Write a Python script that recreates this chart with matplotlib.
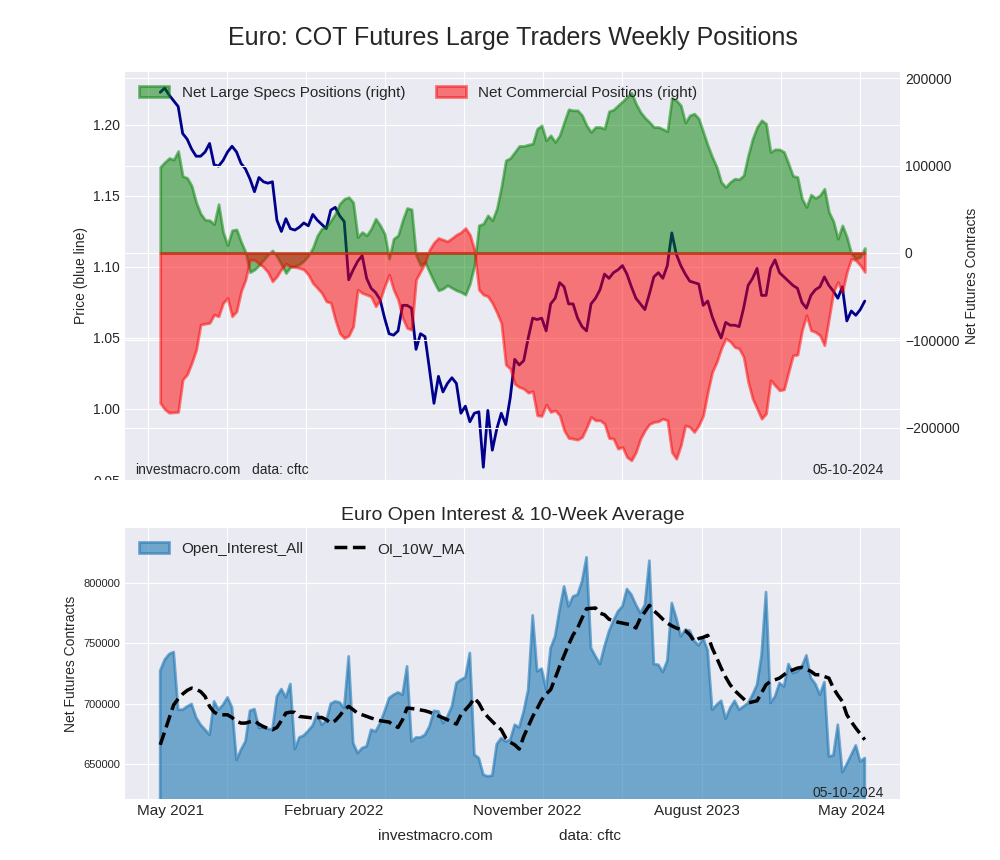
import numpy as np
import pandas as pd
import matplotlib
matplotlib.use('Agg')
import matplotlib.pyplot as plt
from matplotlib.patches import Rectangle
from matplotlib.ticker import MultipleLocator

# weekly COT data, Tuesday report dates
weeks = pd.date_range('2021-05-04', periods=158, freq='7D')

price = [
    1.223, 1.226, 1.221, 1.217, 1.213, 1.194, 1.190, 1.183, 1.178, 1.178,
    1.181, 1.187, 1.172, 1.171, 1.175, 1.181, 1.185, 1.181, 1.173, 1.169,
    1.162, 1.153, 1.163, 1.160, 1.159, 1.160, 1.133, 1.125, 1.134, 1.127,
    1.126, 1.128, 1.131, 1.129, 1.137, 1.133, 1.130, 1.127, 1.140, 1.142,
    1.136, 1.132, 1.091, 1.098, 1.104, 1.108, 1.092, 1.085, 1.082, 1.077,
    1.064, 1.053, 1.052, 1.055, 1.073, 1.073, 1.071, 1.042, 1.053, 1.051,
    1.028, 1.004, 1.023, 1.012, 1.018, 1.022, 1.018, 0.997, 1.002, 0.991,
    0.997, 0.998, 0.959, 0.999, 0.971, 0.986, 0.997, 0.989, 1.008, 1.035,
    1.031, 1.034, 1.050, 1.064, 1.063, 1.064, 1.055, 1.074, 1.078, 1.089,
    1.086, 1.074, 1.074, 1.064, 1.058, 1.055, 1.074, 1.078, 1.084, 1.095,
    1.092, 1.096, 1.098, 1.101, 1.095, 1.086, 1.078, 1.074, 1.070, 1.081,
    1.093, 1.096, 1.092, 1.101, 1.124, 1.109, 1.101, 1.095, 1.090, 1.089,
    1.088, 1.073, 1.076, 1.065, 1.057, 1.050, 1.061, 1.059, 1.059, 1.058,
    1.071, 1.087, 1.092, 1.099, 1.080, 1.080, 1.099, 1.105, 1.096, 1.093,
    1.090, 1.087, 1.085, 1.075, 1.071, 1.080, 1.084, 1.086, 1.093, 1.087,
    1.083, 1.078, 1.086, 1.062, 1.069, 1.066, 1.070, 1.076]

large_specs = [
    98500, 104000, 108800, 107000, 116800, 88000, 86000, 77000, 58000, 45000,
    38000, 37500, 33000, 56000, 24000, 9000, 26000, 27000, 13000, 1000,
    -22000, -19000, -14000, -8000, -2000, 3000, -4000, -13000, -23000, -16000,
    -15000, -13000, -9000, -3000, 6000, 20000, 28000, 30000, 37000, 45000,
    56500, 62000, 64000, 58000, 18300, 24000, 20200, 27900, 39300, 31700,
    22100, -6500, 16400, 20200, 37400, 51500, 50000, -2700, -14100, -10300,
    -21800, -33000, -42800, -40900, -37000, -40000, -42800, -44700, -47700, -35100,
    -14100, 31700, 33600, 43100, 37400, 50800, 75600, 106100, 108800, 115700,
    122600, 122600, 124100, 125200, 142400, 146200, 129000, 134800, 127100, 134800,
    150000, 164600, 163400, 163400, 157700, 146200, 138600, 144300, 144300, 142400,
    162300, 164200, 169100, 173700, 178700, 183600, 171000, 161500, 155000, 150000,
    144300, 144300, 142000, 139400, 177500, 174900, 169100, 149300, 157700, 159600,
    153900, 138600, 123300, 110000, 98500, 81300, 75600, 81300, 85100, 84400,
    89000, 111900, 131000, 144300, 152000, 148100, 115700, 118700, 118700, 115700,
    102300, 88200, 87100, 62200, 52700, 66800, 63000, 66100, 73700, 47000,
    36300, 16400, 31700, 18300, -700, -6500, -4600, 5700]

commercial = [
    -171800, -179000, -183000, -182500, -182000, -145000, -139000, -126000, -111000, -82000,
    -81000, -80000, -70600, -72500, -57300, -51500, -72500, -66800, -44000, -30500,
    -7600, -8000, -12000, -16000, -22000, -32500, -26700, -18300, -12200, -15300,
    -16000, -17200, -19000, -24800, -34400, -40000, -45800, -55400, -57000, -76400,
    -92000, -97400, -94700, -84000, -42000, -45800, -47700, -50000, -61100, -53500,
    -38200, -24800, -42000, -53500, -74500, -85900, -87800, -30500, -21000, -11500,
    3800, 12000, 17200, 15300, 13400, 17000, 21000, 23700, 28600, 21000,
    3800, -42000, -47700, -49600, -57300, -68000, -80200, -127900, -132500, -150000,
    -153500, -155400, -160000, -158400, -185900, -186700, -173700, -182100, -180200, -185900,
    -203100, -211900, -212700, -213800, -210800, -200000, -187800, -191700, -191700, -195500,
    -211900, -212700, -224100, -222200, -233700, -237500, -228000, -212700, -203100, -196000,
    -193600, -192800, -189800, -191700, -228000, -235600, -220300, -197400, -199300, -205000,
    -197400, -185900, -159200, -136300, -124800, -109500, -98100, -101200, -107700, -109500,
    -119100, -147700, -166800, -178300, -189800, -184000, -145800, -151600, -157300, -156200,
    -136300, -117200, -116500, -88600, -71400, -88600, -90500, -94300, -105700, -75200,
    -44700, -33200, -44700, -21800, -6500, -8400, -14100, -21700]

open_interest = [
    727300, 736400, 741100, 742800, 695000, 695000, 697700, 699700, 688600, 682500,
    678400, 674200, 701900, 695000, 699100, 705200, 696900, 653500, 661800, 668700,
    694100, 695500, 679800, 680300, 679200, 678400, 706000, 712100, 705200, 716300,
    662400, 672000, 673700, 677600, 682000, 692200, 682500, 685800, 700000, 701900,
    701000, 696400, 739200, 667300, 659000, 663200, 664600, 678400, 677000, 683900,
    693600, 704600, 707400, 709300, 707400, 730900, 668700, 672000, 672000, 674200,
    681100, 694100, 693600, 683900, 689400, 697700, 717100, 719800, 721800, 742000,
    657700, 654900, 641100, 639700, 640500, 666500, 671500, 668700, 670100, 682500,
    680300, 693600, 711600, 773200, 726800, 729000, 711600, 746100, 755800, 777900,
    797200, 780700, 788900, 790300, 801400, 821300, 746100, 739200, 732800, 747500,
    759900, 768800, 776500, 780700, 795000, 790300, 782000, 775100, 782000, 818500,
    732800, 732200, 726200, 735600, 783400, 771000, 755800, 761300, 760500, 752000,
    748300, 754400, 743900, 695000, 699100, 702400, 687500, 696400, 702400, 695000,
    697700, 700500, 707400, 715700, 740000, 792500, 700500, 706000, 717100, 714300,
    732800, 725400, 726800, 730900, 740000, 721200, 716300, 707400, 717900, 656300,
    657100, 682500, 643300, 650000, 657700, 665400, 652100, 654900]

oi_ma = [
    665900, 677000, 688100, 699100, 704000, 708000, 711000, 712900, 712000, 710000,
    706000, 697700, 693000, 691000, 690800, 690800, 688500, 685500, 683900, 683900,
    685000, 685900, 683000, 681000, 679500, 678400, 680300, 685900, 692200, 693000,
    692800, 689400, 689000, 688600, 688100, 688400, 688600, 686700, 684000, 685900,
    690000, 694900, 697700, 695000, 692000, 690800, 689500, 688100, 687000, 685900,
    685300, 684800, 682000, 680300, 686700, 696400, 696000, 695500, 694800, 694100,
    693000, 691400, 689700, 688100, 686700, 684800, 683100, 690800, 695000, 699100,
    704600, 700500, 693600, 689000, 685300, 681500, 678400, 671500, 668000, 665900,
    662400, 672800, 681000, 689400, 696000, 703200, 708000, 711600, 721000, 730900,
    740000, 748900, 757000, 762700, 771000, 778700, 779000, 779300, 775000, 773700,
    770000, 768800, 767500, 766800, 766000, 765500, 762700, 771000, 776000, 781500,
    777000, 773700, 770000, 766800, 764500, 762700, 761500, 760500, 757200, 751600,
    754000, 755000, 756600, 746100, 738000, 729500, 722000, 715700, 711000, 707400,
    704000, 700500, 701500, 702400, 709000, 715700, 718500, 719800, 721200, 724000,
    726800, 728000, 729500, 730100, 728500, 726800, 724000, 724000, 722500, 721200,
    712900, 707000, 701900, 690800, 685000, 679800, 675000, 670100]

# x grid lines and the (offset) month labels under the lower panel
grid_dates = pd.date_range('2021-04-15', '2024-04-29', periods=10)
label_dates = pd.to_datetime(['2021-05-20', '2022-01-30', '2022-11-28',
                              '2023-08-19', '2024-04-16'])
label_text = ['May 2021', 'February 2022', 'November 2022', 'August 2023', 'May 2024']

plt.style.use('seaborn-v0_8-darkgrid')
plt.rcParams['font.family'] = ['Liberation Sans', 'DejaVu Sans']

fig = plt.figure(figsize=(10, 8.6), dpi=100)
fig.text(0.5125, 0.9558, 'Euro: COT Futures Large Traders Weekly Positions',
         ha='center', va='center', fontsize=18)

# --- top panel: price + net positions
ax = fig.add_axes([0.125, 0.44186, 0.775, 0.47442])
ax.plot(weeks, price, color='darkblue', lw=2)
ax.set_ylim(0.95, 1.2373)
ax.set_ylabel('Price (blue line)', fontsize=10)
ax.tick_params(axis='y', labelsize=10)
ax.set_xticks(grid_dates)
ax.set_xticklabels([])

ax2 = ax.twinx()
ax2.fill_between(weeks, large_specs, color='green', alpha=0.5, lw=2,
                 label='Net Large Specs Positions (right)')
ax2.fill_between(weeks, commercial, color='red', alpha=0.5, lw=2,
                 label='Net Commercial Positions (right)')
ax2.set_ylim(-260000, 207300)
ax2.yaxis.set_major_locator(MultipleLocator(100000))
ax2.set_ylabel('Net Futures Contracts', fontsize=10)
ax2.tick_params(axis='y', labelsize=10)
ax2.legend(loc='upper left', ncol=2, fontsize=11, frameon=False)
ax.text(0.013, 0.0245, 'investmacro.com', transform=ax.transAxes,
        va='center', fontsize=10)
ax.text(0.164, 0.0245, 'data: cftc', transform=ax.transAxes,
        va='center', fontsize=10)
ax.text(0.979, 0.0245, '05-10-2024', transform=ax.transAxes,
        ha='right', va='center', fontsize=10)

# the upper picture is cut at its lower edge
fig.add_artist(Rectangle((0, 0.4186), 0.124, 0.0233, transform=fig.transFigure,
                         facecolor='white', edgecolor='none', zorder=10))

# --- bottom panel: open interest
bx = fig.add_axes([0.125, 0.07093, 0.775, 0.31512])
bx.fill_between(weeks, open_interest, color='#1f77b4', alpha=0.6, lw=2,
                label='Open_Interest_All')
bx.plot(weeks, oi_ma, 'k--', lw=2.5, label='OI_10W_MA')
bx.set_ylim(621000, 845600)
bx.yaxis.set_major_locator(MultipleLocator(50000))
bx.set_xlim(ax.get_xlim())
bx.set_title('Euro Open Interest & 10-Week Average', fontsize=14)
bx.set_ylabel('Net Futures Contracts', fontsize=10)
bx.tick_params(axis='y', labelsize=8)
bx.set_xticks(grid_dates)
bx.set_xticklabels([])
bx.set_xticks(label_dates, minor=True)
bx.set_xticklabels(label_text, minor=True, fontsize=11)
bx.tick_params(axis='x', which='minor', length=0)
bx.legend(loc='upper left', ncol=2, fontsize=11, frameon=False)
bx.text(0.979, 0.022, '05-10-2024', transform=bx.transAxes,
        ha='right', va='center', fontsize=10)

fig.text(0.435, 0.0279, 'investmacro.com', ha='center', va='center', fontsize=11)
fig.text(0.590, 0.0279, 'data: cftc', ha='center', va='center', fontsize=11)

fig.savefig('out.png', dpi=100)
